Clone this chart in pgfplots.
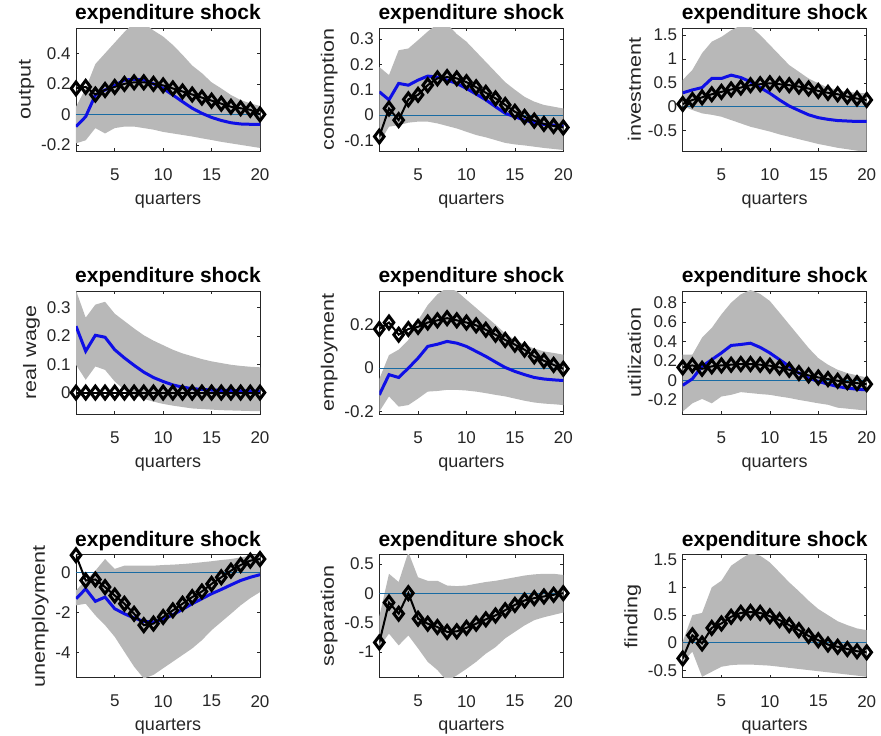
\documentclass[border=0pt]{standalone}
\usepackage{fontspec}
\setmainfont{Liberation Sans}
\usepackage{graphicx}
\usepackage{pgfplots}
\usepackage{pgfplotstable}
\pgfplotsset{compat=1.18}
\definecolor{band}{RGB}{184,184,184}
\definecolor{mblue}{RGB}{15,15,230}
\definecolor{zline}{rgb}{0.1,0.42,0.64}
\definecolor{axc}{rgb}{0.15,0.15,0.15}
\newcommand{\yl}[1]{\scalebox{1.2}[1]{#1}}

% q = quarter, m = blue line, d = black diamonds
\pgfplotstableread{
q m d
1 -0.08 0.17
2 -0.015 0.18
3 0.127 0.13
4 0.16 0.16
5 0.19 0.18
6 0.225 0.20
7 0.23 0.21
8 0.225 0.21
9 0.20 0.20
10 0.17 0.19
11 0.127 0.17
12 0.083 0.15
13 0.04 0.13
14 0.007 0.11
15 -0.02 0.09
16 -0.04 0.07
17 -0.055 0.05
18 -0.063 0.04
19 -0.065 0.03
20 -0.065 0.00
}\tOutput

\pgfplotstableread{
q m d
1 0.092 -0.085
2 0.06 0.026
3 0.125 -0.02
4 0.118 0.062
5 0.138 0.08
6 0.154 0.118
7 0.15 0.145
8 0.138 0.15
9 0.125 0.145
10 0.105 0.13
11 0.083 0.11
12 0.06 0.088
13 0.033 0.066
14 0.007 0.04
15 -0.007 0.013
16 -0.02 -0.007
17 -0.03 -0.022
18 -0.037 -0.035
19 -0.04 -0.043
20 -0.043 -0.049
}\tCons

\pgfplotstableread{
q m d
1 0.29 0.056
2 0.35 0.14
3 0.40 0.195
4 0.59 0.26
5 0.59 0.31
6 0.66 0.36
7 0.61 0.40
8 0.52 0.45
9 0.40 0.47
10 0.28 0.49
11 0.14 0.47
12 0.014 0.45
13 -0.08 0.42
14 -0.17 0.38
15 -0.23 0.33
16 -0.265 0.29
17 -0.29 0.26
18 -0.30 0.21
19 -0.31 0.17
20 -0.31 0.14
}\tInv

\pgfplotstableread{
q m d
1 0.234 0
2 0.146 0
3 0.202 0
4 0.195 0
5 0.151 0
6 0.122 0
7 0.096 0
8 0.072 0
9 0.053 0
10 0.039 0
11 0.027 0
12 0.019 0
13 0.014 0
14 0.011 0
15 0.009 0
16 0.008 0
17 0.007 0
18 0.006 0
19 0.006 0
20 0.005 0
}\tWage

\pgfplotstableread{
q m d
1 -0.123 0.18
2 -0.03 0.21
3 -0.043 0.154
4 0.0 0.18
5 0.046 0.19
6 0.10 0.21
7 0.11 0.22
8 0.123 0.23
9 0.115 0.22
10 0.10 0.21
11 0.077 0.197
12 0.054 0.177
13 0.028 0.154
14 0.003 0.13
15 -0.015 0.108
16 -0.03 0.085
17 -0.043 0.054
18 -0.05 0.034
19 -0.054 0.015
20 -0.057 -0.003
}\tEmp

\pgfplotstableread{
q m d
1 -0.05 0.134
2 0.017 0.155
3 0.145 0.12
4 0.214 0.145
5 0.283 0.155
6 0.36 0.162
7 0.37 0.169
8 0.383 0.169
9 0.34 0.162
10 0.283 0.152
11 0.214 0.134
12 0.145 0.11
13 0.076 0.076
14 0.024 0.052
15 -0.01 0.031
16 -0.038 0.014
17 -0.062 -0.003
18 -0.079 -0.017
19 -0.09 -0.028
20 -0.097 -0.038
}\tUtil

\pgfplotstableread{
q m d
1 -1.32 0.85
2 -0.83 -0.41
3 -1.45 -0.36
4 -1.24 -0.74
5 -1.82 -1.16
6 -2.07 -1.57
7 -2.28 -2.07
8 -2.45 -2.64
9 -2.48 -2.56
10 -2.35 -2.23
11 -2.12 -1.90
12 -1.85 -1.57
13 -1.57 -1.24
14 -1.32 -0.96
15 -1.07 -0.58
16 -0.86 -0.25
17 -0.63 0.08
18 -0.41 0.36
19 -0.25 0.58
20 -0.12 0.66
}\tUnemp

\pgfplotstableread{
q d
1 -0.84
2 -0.16
3 -0.35
4 0.0
5 -0.435
6 -0.52
7 -0.576
8 -0.66
9 -0.65
10 -0.59
11 -0.52
12 -0.446
13 -0.38
14 -0.29
15 -0.20
16 -0.124
17 -0.085
18 -0.056
19 -0.028
20 0.0
}\tSep

\pgfplotstableread{
q d
1 -0.28
2 0.137
3 -0.01
4 0.27
5 0.35
6 0.47
7 0.54
8 0.555
9 0.54
10 0.48
11 0.41
12 0.32
13 0.23
14 0.125
15 0.048
16 -0.03
17 -0.07
18 -0.11
19 -0.15
20 -0.17
}\tFind

\pgfplotsset{irf/.style={
  scale only axis, width=184pt, height=123pt,
  anchor=south west,
  xmin=1, xmax=20, xtick={5,10,15,20},
  clip mode=individual,
  axis line style={draw=axc, line width=0.6pt},
  tick align=inside, major tick length=3pt,
  tick style={draw=axc, line width=0.5pt},
  ticklabel style={font=\fontsize{17}{19}\selectfont, text=axc},
  xticklabel style={yshift=-14pt},
  yticklabel style={xshift=-2pt},
  label style={font=\fontsize{18}{20}\selectfont, text=axc},
  xlabel style={yshift=-5pt},
  title style={font=\bfseries\fontsize{21}{24}\selectfont, inner sep=0pt, yshift=-2pt},
  title={expenditure shock},
  xlabel={quarters},
  /pgf/number format/assume math mode=true,
}}

\newcommand{\band}[1]{%
  \addplot[fill=band, draw=none] coordinates {#1} -- cycle;
  \addplot[zline, line width=1pt] coordinates {(1,0) (20,0)};
}
\newcommand{\blueplot}[1]{%
  \addplot[mblue, line width=3pt] table[x=q,y=m]{#1};
}
\newcommand{\blackplot}[1]{%
  \addplot[black, line width=2pt, mark=diamond, mark size=6.4pt,
    mark options={line width=3pt, fill=none, solid}] table[x=q,y=d]{#1};
}

\begin{document}
\begin{tikzpicture}
\useasboundingbox (0,0) rectangle (881pt,736pt);

\begin{axis}[irf, at={(76pt,585pt)}, ylabel={\yl{output}},
  ymin=-0.24, ymax=0.566, ytick={-0.2,0,0.2,0.4}]
\band{(1,0.05)(2,0.17)(3,0.33)(4,0.40)(5,0.47)(6,0.54)(7,0.60)(8,0.60)(9,0.55)(10,0.51)(11,0.455)(12,0.39)(13,0.32)(14,0.27)(15,0.21)(16,0.17)(17,0.127)(18,0.094)(19,0.072)(20,0.055)
(20,-0.22)(19,-0.21)(18,-0.20)(17,-0.19)(16,-0.18)(15,-0.168)(14,-0.157)(13,-0.145)(12,-0.135)(11,-0.125)(10,-0.115)(9,-0.10)(8,-0.09)(7,-0.08)(6,-0.08)(5,-0.09)(4,-0.125)(3,-0.09)(2,-0.17)(1,-0.19)}
\blueplot{\tOutput}\blackplot{\tOutput}
\end{axis}

\begin{axis}[irf, at={(379.3pt,585pt)}, ylabel={\yl{consumption}},
  ymin=-0.142, ymax=0.344, ytick={-0.1,0,0.1,0.2,0.3}]
\band{(1,0.19)(2,0.158)(3,0.256)(4,0.263)(5,0.296)(6,0.33)(7,0.36)(8,0.36)(9,0.32)(10,0.29)(11,0.25)(12,0.21)(13,0.17)(14,0.13)(15,0.10)(16,0.072)(17,0.053)(18,0.04)(19,0.033)(20,0.026)
(20,-0.138)(19,-0.134)(18,-0.13)(17,-0.125)(16,-0.12)(15,-0.116)(14,-0.11)(13,-0.099)(12,-0.088)(11,-0.079)(10,-0.066)(9,-0.053)(8,-0.043)(7,-0.033)(6,-0.026)(5,-0.026)(4,-0.03)(3,-0.04)(2,-0.046)(1,-0.11)}
\blueplot{\tCons}\blackplot{\tCons}
\end{axis}

\begin{axis}[irf, at={(682.7pt,585pt)}, ylabel={\yl{investment}},
  ymin=-0.927, ymax=1.646, ytick={-0.5,0,0.5,1,1.5}]
\band{(1,0.56)(2,0.77)(3,1.12)(4,1.36)(5,1.46)(6,1.60)(7,1.70)(8,1.68)(9,1.50)(10,1.29)(11,1.08)(12,0.87)(13,0.73)(14,0.59)(15,0.49)(16,0.40)(17,0.35)(18,0.31)(19,0.29)(20,0.28)
(20,-0.95)(19,-0.92)(18,-0.89)(17,-0.86)(16,-0.82)(15,-0.78)(14,-0.73)(13,-0.68)(12,-0.63)(11,-0.58)(10,-0.52)(9,-0.47)(8,-0.42)(7,-0.35)(6,-0.28)(5,-0.21)(4,-0.17)(3,-0.14)(2,-0.07)(1,0.01)}
\blueplot{\tInv}\blackplot{\tInv}
\end{axis}

\begin{axis}[irf, at={(76pt,322pt)}, ylabel={\yl{real wage}},
  ymin=-0.0755, ymax=0.358, ytick={0,0.1,0.2,0.3}]
\band{(1,0.36)(2,0.264)(3,0.31)(4,0.32)(5,0.278)(6,0.252)(7,0.226)(8,0.202)(9,0.183)(10,0.167)(11,0.151)(12,0.138)(13,0.128)(14,0.118)(15,0.11)(16,0.104)(17,0.098)(18,0.094)(19,0.091)(20,0.089)
(20,-0.065)(19,-0.065)(18,-0.064)(17,-0.063)(16,-0.062)(15,-0.06)(14,-0.058)(13,-0.056)(12,-0.051)(11,-0.046)(10,-0.04)(9,-0.032)(8,-0.022)(7,-0.008)(6,0.009)(5,0.039)(4,0.08)(3,0.092)(2,0.045)(1,0.098)}
\blueplot{\tWage}\blackplot{\tWage}
\end{axis}

\begin{axis}[irf, at={(379.3pt,322pt)}, ylabel={\yl{employment}},
  ymin=-0.211, ymax=0.355, ytick={-0.2,0,0.2}]
\band{(1,-0.05)(2,0.06)(3,0.085)(4,0.13)(5,0.22)(6,0.29)(7,0.34)(8,0.37)(9,0.354)(10,0.315)(11,0.277)(12,0.238)(13,0.20)(14,0.16)(15,0.13)(16,0.108)(17,0.09)(18,0.077)(19,0.07)(20,0.062)
(20,-0.17)(19,-0.166)(18,-0.163)(17,-0.158)(16,-0.15)(15,-0.14)(14,-0.13)(13,-0.123)(12,-0.115)(11,-0.108)(10,-0.103)(9,-0.10)(8,-0.10)(7,-0.105)(6,-0.108)(5,-0.14)(4,-0.17)(3,-0.177)(2,-0.13)(1,-0.20)}
\blueplot{\tEmp}\blackplot{\tEmp}
\end{axis}

\begin{axis}[irf, at={(682.7pt,322pt)}, ylabel={\yl{utilization}},
  ymin=-0.345, ymax=0.92, ytick={-0.2,0,0.2,0.4,0.6,0.8}]
\band{(1,0.265)(2,0.265)(3,0.44)(4,0.54)(5,0.68)(6,0.80)(7,0.886)(8,0.93)(9,0.89)(10,0.817)(11,0.697)(12,0.576)(13,0.455)(14,0.334)(15,0.23)(16,0.162)(17,0.11)(18,0.076)(19,0.052)(20,0.031)
(20,-0.31)(19,-0.30)(18,-0.29)(17,-0.28)(16,-0.25)(15,-0.235)(14,-0.217)(13,-0.20)(12,-0.18)(11,-0.165)(10,-0.148)(9,-0.14)(8,-0.13)(7,-0.12)(6,-0.148)(5,-0.165)(4,-0.235)(3,-0.19)(2,-0.235)(1,-0.32)}
\blueplot{\tUtil}\blackplot{\tUtil}
\end{axis}

\begin{axis}[irf, at={(76pt,58.3pt)}, ylabel={\yl{unemployment}},
  ymin=-5.26, ymax=0.876, ytick={-4,-2,0}]
\band{(1,-0.9)(2,-0.41)(3,0.08)(4,0.66)(5,0.17)(6,0.33)(7,0.33)(8,0.33)(9,0.33)(10,0.36)(11,0.38)(12,0.41)(13,0.45)(14,0.50)(15,0.55)(16,0.61)(17,0.66)(18,0.74)(19,0.83)(20,0.90)
(20,-0.99)(19,-1.29)(18,-1.65)(17,-2.07)(16,-2.48)(15,-2.89)(14,-3.39)(13,-3.80)(12,-4.13)(11,-4.46)(10,-4.79)(9,-5.12)(8,-5.3)(7,-4.71)(6,-3.97)(5,-3.22)(4,-2.64)(3,-2.15)(2,-1.57)(1,-1.65)}
\blueplot{\tUnemp}\blackplot{\tUnemp}
\end{axis}

\begin{axis}[irf, at={(379.3pt,58.3pt)}, ylabel={\yl{separation}},
  ymin=-1.44, ymax=0.655, ytick={-1,-0.5,0,0.5}]
\band{(1,-0.40)(2,0.33)(3,0.19)(4,0.70)(5,0.27)(6,0.21)(7,0.21)(8,0.13)(9,0.12)(10,0.13)(11,0.16)(12,0.19)(13,0.21)(14,0.24)(15,0.27)(16,0.30)(17,0.32)(18,0.33)(19,0.33)(20,0.31)
(20,-0.33)(19,-0.37)(18,-0.41)(17,-0.46)(16,-0.55)(15,-0.66)(14,-0.77)(13,-0.92)(12,-1.03)(11,-1.17)(10,-1.29)(9,-1.40)(8,-1.50)(7,-1.31)(6,-1.17)(5,-0.94)(4,-0.72)(3,-0.89)(2,-0.69)(1,-0.92)}
\blackplot{\tSep}
\end{axis}

\begin{axis}[irf, at={(682.7pt,58.3pt)}, ylabel={\yl{finding}},
  ymin=-0.627, ymax=1.588, ytick={-0.5,0,0.5,1,1.5}]
\band{(1,0.02)(2,0.50)(3,0.54)(4,1.00)(5,1.12)(6,1.39)(7,1.51)(8,1.62)(9,1.57)(10,1.45)(11,1.27)(12,1.09)(13,0.93)(14,0.76)(15,0.61)(16,0.50)(17,0.39)(18,0.32)(19,0.26)(20,0.23)
(20,-0.61)(19,-0.59)(18,-0.57)(17,-0.55)(16,-0.53)(15,-0.51)(14,-0.49)(13,-0.47)(12,-0.45)(11,-0.43)(10,-0.41)(9,-0.40)(8,-0.39)(7,-0.39)(6,-0.40)(5,-0.43)(4,-0.52)(3,-0.61)(2,-0.16)(1,-0.34)}
\blackplot{\tFind}
\end{axis}

\end{tikzpicture}
\end{document}
